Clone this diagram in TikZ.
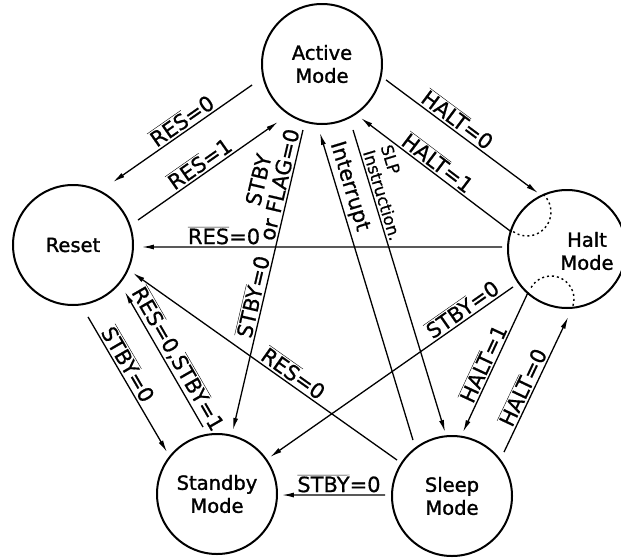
\documentclass[tikz,border=0pt]{standalone}
\usepackage{fontspec}
\setmainfont{DejaVu Sans}[FakeBold=0.7]
\newfontfamily\statefont{DejaVu Sans}[FakeBold=1.4]
\usetikzlibrary{arrows.meta}
\newcommand{\ovl}[1]{$\overline{\mbox{#1}}$}
\begin{document}
\begin{tikzpicture}[x=1pt,y=-1pt,
  state/.style={circle,draw,line width=2pt,minimum size=120pt,inner sep=0pt,align=center,font=\statefont\fontsize{19.5}{23}\selectfont},
  statetext/.style={align=center,inner sep=0pt,font=\statefont\fontsize{19.5}{23}\selectfont},
  edge/.style={line width=1.3pt,-{Latex[length=12pt,width=5pt]}},
  lbl/.style={sloped,above,inner sep=2pt,font=\fontsize{21}{21.5}\selectfont},
  dotarc/.style={line width=1.4pt,dash pattern=on 2pt off 3pt}]
\useasboundingbox (0,0) rectangle (621,557);
\node[state] (act) at (322,64) {Active\\Mode};
\node[state] (res) at (73,245) {Reset};
\node[state,minimum size=118pt] (halt) at (567,249) {};
\node[statetext] (haltt) at (587,251) {Halt\\Mode};
\node[state] (stb) at (217,494) {Standby\\Mode};
\node[state] (slp) at (452,496) {Sleep\\Mode};
% dotted arcs inside Halt
\draw[dotarc] ([shift={(-40,-37)}]halt.center) ++(-47:24) arc[start angle=-47,end angle=125,radius=24];
\draw[dotarc] ([shift={(-16,50)}]halt.center) ++(-150:23) arc[start angle=-150,end angle=20,radius=23];
% edges
\draw[edge] ([shift={(163.3:73)}]act.center) -- node[lbl,pos=.46]{\ovl{RES}=0} ([shift={(-57.6:74.6)}]res.center);
\draw[edge] ([shift={(-21:69.6)}]res.center) -- node[lbl,pos=.485]{\ovl{RES}=1} ([shift={(127.2:72.8)}]act.center);
\draw[edge] ([shift={(181.76:65)}]halt.center) -- node[lbl,pos=.772]{\ovl{RES}=0} ([shift={(1.66:69)}]res.center);
\draw[edge] ([shift={(106.1:68.7)}]act.center) -- node[lbl,pos=.19,align=center]{STBY\\or FLAG=0} node[lbl,pos=.564]{\ovl{STBY}=0} ([shift={(-76:66)}]stb.center);
\draw[edge] ([shift={(-124.9:68.2)}]slp.center) -- node[lbl,pos=.814]{Interrupt} ([shift={(91.7:69)}]act.center);
\draw[edge] ([shift={(64.8:72.9)}]act.center) -- node[lbl,pos=.225,align=left,font=\fontsize{16.5}{18.5}\selectfont]{SLP\\Instruction.} ([shift={(-96.2:64.4)}]slp.center);
\draw[edge] ([shift={(14:66)}]act.center) -- node[lbl,pos=.428]{\ovl{HALT}=0} ([shift={(-117.4:63)}]halt.center);
\draw[edge] ([shift={(-163:58)}]halt.center) -- node[lbl,pos=.532]{\ovl{HALT}=1} ([shift={(54.2:66.6)}]act.center);
\draw[edge] ([shift={(132:58)}]halt.center) -- node[lbl,pos=.543]{\ovl{HALT}=1} ([shift={(-80.2:65)}]slp.center);
\draw[edge] ([shift={(-40.2:68.1)}]slp.center) -- node[lbl,pos=.445]{\ovl{HALT}=0} ([shift={(89:68)}]halt.center);
\draw[edge] ([shift={(144.9:66)}]halt.center) -- node[lbl,pos=.183]{\ovl{STBY}=0} ([shift={(-34.9:64.6)}]stb.center);
\draw[edge] ([shift={(-146.8:65.7)}]slp.center) -- node[lbl,pos=.416]{\ovl{RES}=0} ([shift={(25:66.2)}]res.center);
\draw[edge] ([shift={(180.9:67)}]slp.center) -- node[lbl,pos=.447]{\ovl{STBY}=0} ([shift={(0.9:65)}]stb.center);
\draw[edge] ([shift={(78.2:73.5)}]res.center) -- node[lbl,pos=.39]{\ovl{STBY}=0} ([shift={(-140:65.3)}]stb.center);
\draw[edge] ([shift={(-101.8:68.4)}]stb.center) -- node[lbl,pos=.459]{\ovl{RES}=0,\ovl{STBY}=1} ([shift={(42.1:70)}]res.center);
\end{tikzpicture}
\end{document}
